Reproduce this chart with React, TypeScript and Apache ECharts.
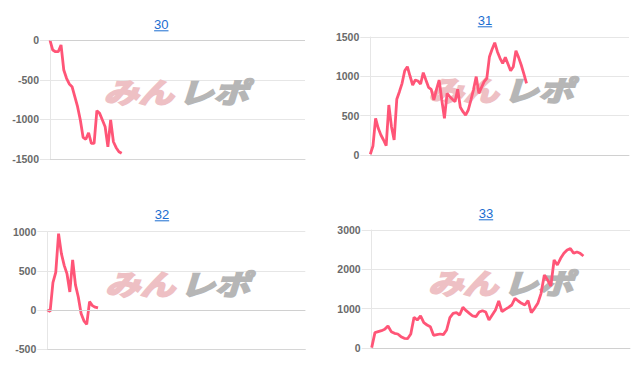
import React, { useEffect, useRef } from "react";
import * as echarts from "echarts";

const titles = ["30", "31", "32", "33"];

const series30 = [0, -123, -144, -144, -59, -375, -480, -552, -586, -713, -839, -1007, -1226, -1251, -1168, -1302, -1302, -889, -923, -1007, -1092, -1345, -1007, -1282, -1357, -1408, -1428];
const series31 = [10, 114, 466, 339, 254, 191, 119, 636, 360, 191, 708, 805, 911, 1072, 1123, 1004, 890, 953, 941, 903, 1047, 953, 860, 835, 699, 835, 953, 699, 466, 784, 742, 708, 678, 835, 606, 551, 508, 572, 699, 835, 996, 784, 860, 932, 975, 1250, 1343, 1428, 1313, 1229, 1165, 1241, 1157, 1072, 1123, 1326, 1241, 1144, 1030, 911];
const series32 = [0, -20, 350, 480, 975, 720, 570, 460, 230, 640, 320, 165, -45, -140, -185, 105, 55, 35, 25];
const series33 = [10, 390, 415, 440, 475, 560, 415, 373, 356, 288, 246, 237, 356, 780, 712, 814, 644, 585, 542, 322, 339, 356, 339, 458, 771, 881, 898, 839, 1034, 949, 881, 814, 797, 915, 949, 915, 712, 839, 966, 1195, 924, 983, 1034, 1093, 1263, 1195, 1136, 1093, 1203, 898, 1008, 1136, 1390, 1856, 1729, 1576, 2237, 2110, 2280, 2407, 2492, 2526, 2407, 2441, 2407, 2339];

const allSeries = [series30, series31, series32, series33];

const yMin = [-1500, 0, -500, 0];
const yMax = [0, 1500, 1000, 3000];
const yInterval = [500, 500, 500, 1000];

// x extent of each panel (number of steps the full axis spans)
const xSpan = [92.5, 97.7, 91.6, 79.3];

const grids = [
  { left: 50, top: 40.3, width: 255, height: 118.7 },
  { left: 370.3, top: 37, width: 258.7, height: 118 },
  { left: 47.3, top: 231.7, width: 258, height: 117.3 },
  { left: 371.7, top: 230, width: 258.3, height: 118 },
];
const titlePos = [
  { x: 161.3, y: 24.7, u: 30.8 },
  { x: 485, y: 20.7, u: 26.8 },
  { x: 162, y: 214.7, u: 220.8 },
  { x: 486, y: 213.7, u: 219.8 },
];
const markPos = [
  { x: 138.5, y: 91 },
  { x: 463.5, y: 89 },
  { x: 140, y: 283 },
  { x: 463, y: 281.5 },
];

const LINE = "#ff5577";
const LINK = "#1a6dd0";
const GRIDC = "#e6e6e6";

function markText(text: string, x: number, y: number, color: string) {
  return {
    type: "text",
    x,
    y,
    scaleX: 1.25,
    z: 1,
    silent: true,
    style: {
      text,
      fill: color,
      stroke: color,
      lineWidth: 2,
      font: 'italic bold 28px "Noto Sans CJK JP", sans-serif',
      textAlign: "center",
      textVerticalAlign: "middle",
      align: "center",
      verticalAlign: "middle",
    },
  };
}

export default function App() {
  const ref = useRef<HTMLDivElement>(null);
  useEffect(() => {
    document.body.style.margin = "0";
    const chart = echarts.init(ref.current!, null, { renderer: "svg" });
    const graphic: any[] = [];
    titles.forEach((t, i) => {
      const p = titlePos[i];
      const w = 7.2 * t.length;
      graphic.push({
        type: "text",
        x: p.x,
        y: p.y,
        style: {
          text: t,
          fill: LINK,
          font: '13px "Liberation Sans", Arial, sans-serif',
          textAlign: "center",
          textVerticalAlign: "middle",
          align: "center",
          verticalAlign: "middle",
        },
      });
      graphic.push({
        type: "line",
        shape: { x1: p.x - w / 2, y1: p.u, x2: p.x + w / 2, y2: p.u },
        style: { stroke: LINK, lineWidth: 1 },
      });
      const m = markPos[i];
      graphic.push(markText("みん", m.x, m.y, "#eec0c4"));
      graphic.push(markText("レポ", m.x + 75, m.y, "#b6b6b6"));
    });

    const option: any = {
      animation: false,
      grid: grids.map((g) => ({ ...g, containLabel: false })),
      xAxis: grids.map((_, i) => ({
        type: "value",
        gridIndex: i,
        min: 0,
        max: xSpan[i],
        axisLine: { show: true, onZero: false, lineStyle: { color: "#d6d6d6" } },
        axisTick: { show: false },
        axisLabel: { show: false },
        splitLine: { show: false },
      })),
      yAxis: grids.map((_, i) => ({
        type: "value",
        gridIndex: i,
        min: yMin[i],
        max: yMax[i],
        interval: yInterval[i],
        axisLine: { show: true, lineStyle: { color: GRIDC } },
        axisTick: { show: true, length: 10, lineStyle: { color: GRIDC } },
        axisLabel: {
          color: "#6a6a6a",
          fontSize: 10.5,
          fontWeight: "bold",
          margin: 11,
          fontFamily: '"Liberation Sans", Arial, sans-serif',
          formatter: (v: number) => String(v),
        },
        splitLine: { show: true, lineStyle: { color: GRIDC } },
      })),
      series: allSeries.map((vals, i) => ({
        type: "line",
        z: 3,
        xAxisIndex: i,
        yAxisIndex: i,
        data: vals.map((v, j) => [j, v]),
        showSymbol: false,
        symbol: "none",
        lineStyle: { color: LINE, width: 2.8 },
        markLine: {
          silent: true,
          symbol: "none",
          label: { show: false },
          lineStyle: { color: "#d0d0d0", width: 1, type: "solid" },
          data: [{ yAxis: 0 }],
        },
      })),
      graphic,
    };
    chart.setOption(option);
    return () => chart.dispose();
  }, []);
  return <div ref={ref} style={{ width: 640, height: 380 }} />;
}
